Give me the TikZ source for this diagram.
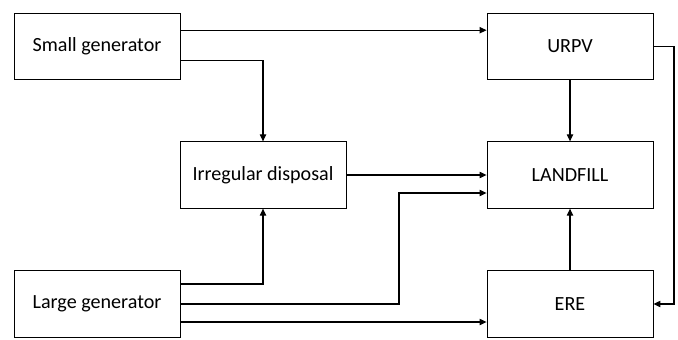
\documentclass[tikz,border=0pt]{standalone}
\usepackage{fontspec}
\setmainfont{Carlito}
\usetikzlibrary{arrows.meta,positioning}

\begin{document}
\begin{tikzpicture}[x=1cm,y=1cm,
  box/.style={draw, line width=0.6pt, align=center, minimum width=4.15cm, minimum height=1.66cm, font=\fontsize{14.3}{17}\selectfont},
  arr/.style={-{Triangle[length=5pt,width=4.5pt]}, line width=0.8pt}]
\useasboundingbox (0,0) rectangle (16.95,8.475);
\node[box] (small) at (2.425,7.31) {Small generator};
\node[box] (irreg) at (6.575,4.1) {Irregular disposal};
\node[box] (large) at (2.425,0.875) {Large generator};
\node[box] (urpv) at (14.25,7.31) {URPV};
\node[box] (land) at (14.25,4.1) {LANDFILL};
\node[box] (ere) at (14.25,0.875) {ERE};
\coordinate (landin) at ([yshift=-0.45cm]land.west);
\coordinate (jog) at (9.975,0);
\coordinate (side) at (16.85,0);
\draw[arr] ([yshift=0.41cm]small.east) -- ([yshift=0.41cm]urpv.west);
\draw[arr] ([yshift=-0.34cm]small.east) -| (irreg.north);
\draw[arr] ([yshift=0.5cm]large.east) -| (irreg.south);
\draw[arr] (irreg.east) -- (land.west);
\draw[arr] (large.east) -| (jog |- landin) -- (landin);
\draw[arr] ([yshift=-0.45cm]large.east) -- ([yshift=-0.45cm]ere.west);
\draw[arr] (urpv) -- (land);
\draw[arr] (ere) -- (land);
\draw[arr] (urpv.east) -| (side |- ere.east) -- (ere.east);
\end{tikzpicture}
\end{document}
